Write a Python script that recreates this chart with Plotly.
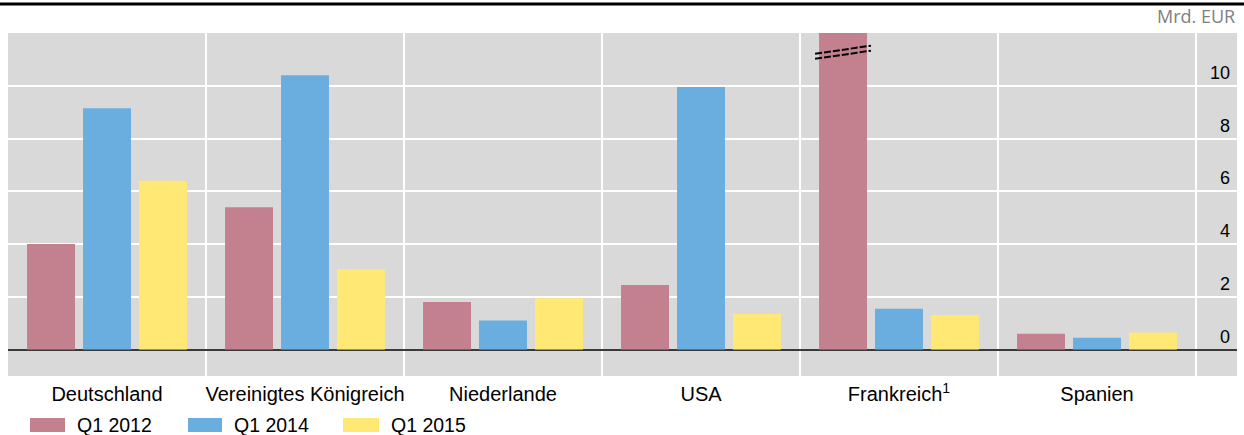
import plotly.graph_objects as go

# Länder und Werte (Mrd. EUR)
countries = ["Deutschland", "Vereinigtes Königreich", "Niederlande", "USA",
             "Frankreich<sup>1</sup>", "Spanien"]
q1_2012 = [4.0, 5.4, 1.8, 2.45, 12.5, 0.6]   # Frankreich: Achse gebrochen
q1_2014 = [9.15, 10.4, 1.1, 9.95, 1.55, 0.45]
q1_2015 = [6.4, 3.05, 1.95, 1.35, 1.3, 0.65]
series_names = ["Q1 2012", "Q1 2014", "Q1 2015"]
colors = ["#C3808F", "#6AAEE0", "#FFE873"]
y_ticks = [0, 2, 4, 6, 8, 10]

W, H = 1244, 435
L, R, T, B = 8, 7, 33, 59
PW, PH = W - L - R, H - T - B
BARGAP, GROUPGAP = 0.152, 0.143


def px_x(x):
    return (x - L) / PW


def px_y(y):
    return (H - B - y) / PH


fig = go.Figure()
xs = list(range(len(countries)))
for name, vals, col in zip(series_names, [q1_2012, q1_2014, q1_2015], colors):
    fig.add_trace(go.Bar(x=xs, y=vals, name=name, marker_color=col,
                         marker_line_width=0, showlegend=False))

fig.update_layout(
    width=W, height=H,
    margin=dict(l=L, r=R, t=T, b=B),
    paper_bgcolor="white", plot_bgcolor="#D9D9D9",
    barmode="group", bargap=BARGAP, bargroupgap=GROUPGAP,
    font=dict(family="Liberation Sans, Arial, sans-serif", size=18, color="#000"),
)

fig.update_xaxes(
    range=[-0.5, -0.5 + PW / 198.0],
    tickmode="array", tickvals=xs, ticktext=countries,
    showgrid=False, zeroline=False, showline=False, ticks="",
    tickfont=dict(size=20), ticklabelstandoff=4,
)
fig.update_yaxes(
    range=[-1, 12], tickvals=y_ticks, showticklabels=False,
    showgrid=True, gridcolor="white", gridwidth=2,
    zeroline=True, zerolinecolor="#3A3A3A", zerolinewidth=2,
    showline=False, ticks="",
)

# Trennlinien zwischen den Ländern und vor der Achsenbeschriftung
for k in range(len(countries)):
    fig.add_shape(type="line", xref="x", yref="paper", x0=k + 0.5, x1=k + 0.5,
                  y0=0, y1=1, line=dict(color="white", width=2), layer="between")

# Achsenbeschriftung rechts, oberhalb der Gitterlinien
for v in y_ticks:
    fig.add_annotation(x=px_x(1232), xref="paper", y=v, yref="y", text=str(v),
                       showarrow=False, xanchor="right", yanchor="bottom",
                       yshift=1, font=dict(size=18))

fig.add_annotation(x=px_x(1237), xref="paper", y=px_y(16), yref="paper",
                   text="Mrd. EUR", showarrow=False, xanchor="right",
                   yanchor="middle",
                   font=dict(family="Open Sans, sans-serif", size=18, color="#808080"))

# Obere schwarze Linie
fig.add_shape(type="line", xref="paper", yref="paper", x0=px_x(0), x1=px_x(W),
              y0=px_y(4), y1=px_y(4), line=dict(color="black", width=3))

# Bruchzeichen auf dem Frankreich-Balken
fr = 4
slot = (1 - BARGAP) / 3
bar_c = fr - slot
half = slot * (1 - GROUPGAP) / 2 + 0.02
for dy in (0.0, 0.19):
    fig.add_shape(type="line", xref="x", yref="y",
                  x0=bar_c - half, x1=bar_c + half,
                  y0=11.21 - dy, y1=11.52 - dy,
                  line=dict(color="black", width=2, dash="7px,2px"))

# Legende
legend_x = [(30, 65, 75), (188, 222, 232), (343, 379, 389)]
for (sx0, sx1, tx), name, col in zip(legend_x, series_names, colors):
    fig.add_shape(type="rect", xref="paper", yref="paper",
                  x0=px_x(sx0), x1=px_x(sx1), y0=px_y(432), y1=px_y(418),
                  fillcolor=col, line=dict(width=0))
    fig.add_annotation(x=px_x(tx), xref="paper", y=px_y(425), yref="paper",
                       text=name, showarrow=False, xanchor="left",
                       yanchor="middle", font=dict(size=19.5))

fig.write_html("out.html")
